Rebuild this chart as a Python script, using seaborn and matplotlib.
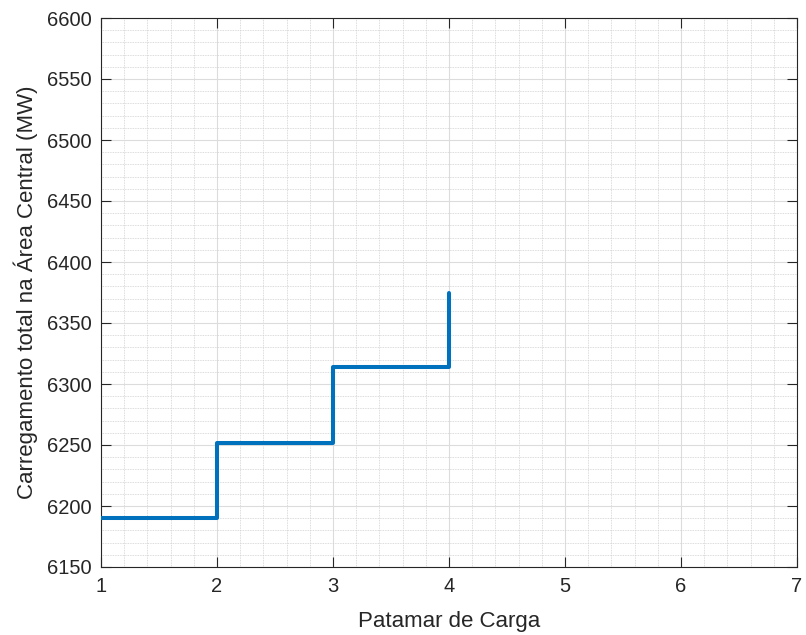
import matplotlib
matplotlib.use("Agg")
import matplotlib.pyplot as plt
from matplotlib.ticker import MultipleLocator
import numpy as np
import pandas as pd
import seaborn as sns

# Load level vs. total loading in the central area
patamar = [1, 2, 3, 4]
carregamento = [6190, 6252, 6314, 6375]

sns.set_theme(style="white")
plt.rcParams["font.family"] = ["Liberation Sans", "DejaVu Sans"]

df = pd.DataFrame({"Patamar": patamar, "Carregamento": carregamento})

fig = plt.figure(figsize=(8.06, 6.35), dpi=100)
ax = fig.add_axes([101 / 806, 1 - 567 / 635, 696 / 806, 549 / 635])

sns.lineplot(data=df, x="Patamar", y="Carregamento", ax=ax,
             drawstyle="steps-post", color="#0072BD", linewidth=2.9,
             zorder=3)

ax.set_xlim(1, 7)
ax.set_ylim(6150, 6600)
ax.xaxis.set_major_locator(MultipleLocator(1))
ax.xaxis.set_minor_locator(MultipleLocator(0.2))
ax.yaxis.set_major_locator(MultipleLocator(50))
ax.yaxis.set_minor_locator(MultipleLocator(10))

ax.grid(which="major", color="#dcdcdc", linewidth=0.8, linestyle="-")
ax.grid(which="minor", color="#d0d0d0", linewidth=0.6, linestyle=(0, (1, 1)))
ax.set_axisbelow(True)

for side in ["left", "right", "top", "bottom"]:
    ax.spines[side].set_visible(True)
    ax.spines[side].set_color("#262626")
    ax.spines[side].set_linewidth(0.8)

ax.tick_params(which="major", direction="in", length=7, width=0.8,
               color="#262626", labelsize=14.5, labelcolor="#262626",
               top=True, right=True, bottom=True, left=True, pad=7)
ax.tick_params(which="minor", length=0)

ax.set_xlabel("Patamar de Carga", fontsize=16, color="#262626", labelpad=11)
ax.set_ylabel("Carregamento total na Área Central (MW)", fontsize=16,
              color="#262626", labelpad=6)

fig.savefig("out.png", dpi=100)
